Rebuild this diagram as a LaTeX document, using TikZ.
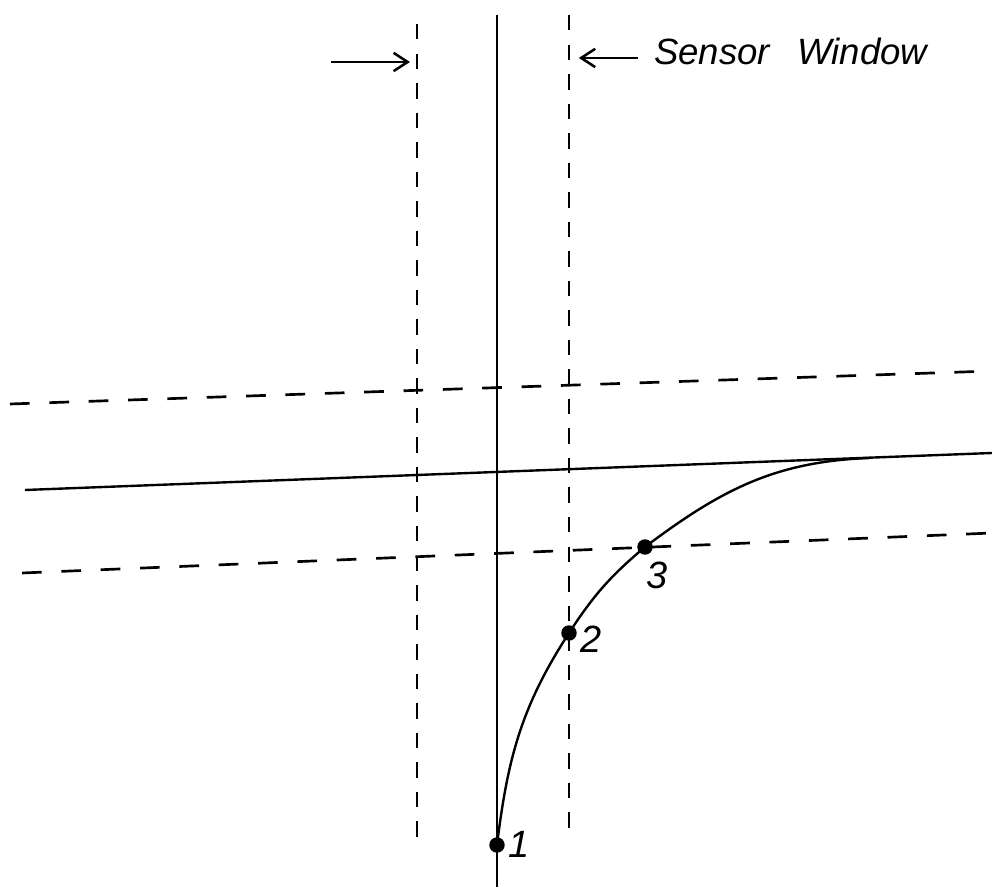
\documentclass[tikz,border=0pt]{standalone}
\usepackage{fontspec}
\newfontfamily\drawfont{Liberation Sans}
\usetikzlibrary{arrows.meta}

\begin{document}
\begin{tikzpicture}[
    x=0.025cm, y=0.025cm,
    axisline/.style={line width=1.7pt},
    winline/.style={line width=1.7pt, dash pattern=on 11pt off 10pt},
    bandline/.style={line width=1.9pt, dash pattern=on 14pt off 14pt},
    arr/.style={-{Straight Barb[length=10pt,width=13pt]}, line width=1.8pt},
    dot/.style={circle, fill, inner sep=0pt, minimum size=11pt},
    numlab/.style={font=\drawfont\itshape\fontsize{27}{32}\selectfont, inner sep=0pt},
    winlabel/.style={font=\drawfont\itshape\fontsize{26}{31}\selectfont, inner xsep=11.3pt}
]
\useasboundingbox (0,0) rectangle (992,887);

% Sensor window (dashed verticals)
\coordinate (winL-top) at (417,863);
\coordinate (winL-bot) at (417,39);
\coordinate (winR-top) at (569,872);
\coordinate (winR-bot) at (569,49);
\draw[winline] (winL-top) -- (winL-bot);
\draw[winline] (winR-top) -- (winR-bot);

% Vertical axis
\coordinate (ax-top) at (497,872);
\coordinate (ax-bot) at (497,0);
\draw[axisline] (ax-top) -- (ax-bot);

% Dashed band and level line
\coordinate (bandU-w) at (10,483);
\coordinate (bandU-e) at (992,516);
\coordinate (bandL-w) at (22,314);
\coordinate (bandL-e) at (992,354);
\coordinate (lvl-w) at (25,397);
\coordinate (lvl-e) at (992,434);
\draw[bandline] (bandU-w) -- (bandU-e);
\draw[bandline] (bandL-w) -- (bandL-e);
\draw[axisline] (lvl-w) -- (lvl-e);

% Response curve with points 1, 2, 3
\node[dot] (p1) at (497,42) {};
\node[dot] (p2) at (569,254) {};
\node[dot] (p3) at (645,340) {};
\coordinate (merge) at (870,429);
\draw[axisline] (p1.center) to[out=83,in=237] (p2.center) to[out=57,in=220] (p3.center) to[out=37,in=182] (merge);
\node[numlab] (n1) at (519,43) {1};
\node[numlab] (n2) at (591,248) {2};
\node[numlab] (n3) at (657,312) {3};

% Arrows and label
\coordinate (arrL) at (331,825);
\draw[arr, shorten >=5pt] (arrL) -- (arrL -| winL-top);
\node[winlabel, anchor=base west] (senswin) at (638,822) {Sensor\hspace{0.75em}Window};
\draw[arr, shorten >=7pt] ([yshift=5pt]senswin.base west) -- ([yshift=5pt]senswin.base west -| winR-top);
\end{tikzpicture}
\end{document}
